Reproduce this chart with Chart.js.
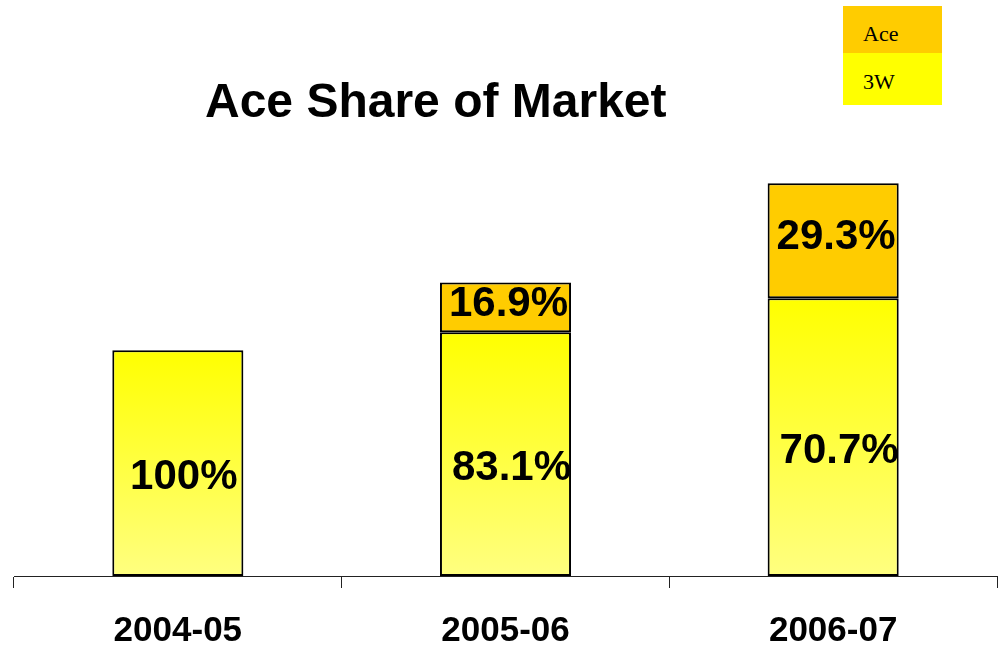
<!DOCTYPE html>
<html>
<head>
<meta charset="utf-8">
<script src="https://cdn.jsdelivr.net/npm/chart.js@4.4.1/dist/chart.umd.min.js"></script>
<style>
  html, body { margin: 0; padding: 0; background: #fff; overflow: hidden; }
  #wrap { position: relative; width: 1004px; height: 654px; }
  #title {
    position: absolute; left: 205px; top: 74px; width: 470px;
    font: bold 48px "Liberation Sans", Arial, sans-serif; line-height: 54px;
    color: #000; white-space: nowrap;
  }
  #legend { position: absolute; left: 843px; top: 6px; width: 99px; }
  #legend .row {
    font-family: "Liberation Serif", "Times New Roman", serif;
    font-size: 22px;
    padding-left: 20px; box-sizing: border-box; color: #000;
  }
  #legend #legAce { background: #ffcc00; height: 47px; line-height: 56px; }
  #legend #leg3w { background: #ffff00; height: 52px; line-height: 58px; }
</style>
</head>
<body>
<div id="wrap">
  <canvas id="shareChart" width="1004" height="654"></canvas>
  <div id="title">Ace Share of Market</div>
  <div id="legend">
    <div class="row" id="legAce">Ace</div>
    <div class="row" id="leg3w">3W</div>
  </div>
</div>
<script>
// chart data
const seasons = ['2004-05', '2005-06', '2006-07'];
const threeWValues = [100, 108, 123];
const aceValues = [0, 22, 51];
const threeWLabels = ['100%', '83.1%', '70.7%'];
const aceLabels = ['', '16.9%', '29.3%'];

const ctx = document.getElementById('shareChart').getContext('2d');

// yellow fading lighter towards the bottom of each bar
function yellowGradient(context) {
  const chart = context.chart;
  if (!chart.chartArea || context.dataIndex === undefined) return '#ffff00';
  const y = chart.scales.y;
  const top = y.getPixelForValue(threeWValues[context.dataIndex]);
  const bottom = y.getPixelForValue(0);
  const g = chart.ctx.createLinearGradient(0, top, 0, bottom);
  g.addColorStop(0, '#ffff00');
  g.addColorStop(1, '#ffff80');
  return g;
}

// draws the percentage inside every segment
const barLabels = {
  id: 'barLabels',
  afterDatasetsDraw(chart) {
    const c = chart.ctx;
    c.save();
    c.font = 'bold 42px "Liberation Sans", Arial, sans-serif';
    c.fillStyle = '#000';
    c.textAlign = 'center';
    c.textBaseline = 'middle';
    [threeWLabels, aceLabels].forEach((texts, di) => {
      chart.getDatasetMeta(di).data.forEach((bar, i) => {
        if (!texts[i]) return;
        const mid = (bar.y + bar.base) / 2;
        c.fillText(texts[i], bar.x + (di === 0 ? 6 : 3), mid + (di === 0 ? 14 : -3));
      });
    });
    c.restore();
  }
};

new Chart(ctx, {
  type: 'bar',
  data: {
    labels: seasons,
    datasets: [
      {
        label: '3W',
        data: threeWValues,
        backgroundColor: yellowGradient,
        borderColor: '#000',
        borderWidth: 2,
        borderSkipped: false
      },
      {
        label: 'Ace',
        data: aceValues,
        backgroundColor: '#ffcc00',
        borderColor: '#000',
        borderWidth: 2,
        borderSkipped: false
      }
    ]
  },
  options: {
    responsive: false,
    animation: false,
    layout: { padding: { top: 147, left: 14, right: 7, bottom: -20 } },
    datasets: { bar: { categoryPercentage: 1, barPercentage: 0.4 } },
    plugins: {
      legend: { display: false },
      tooltip: { enabled: false }
    },
    scales: {
      x: {
        stacked: true,
        border: { color: '#222', width: 1 },
        grid: { offset: true, drawOnChartArea: false, drawTicks: true, tickLength: 12, color: '#222' },
        ticks: {
          color: '#000',
          padding: 22,
          font: { family: '"Liberation Sans", Arial, sans-serif', size: 35, weight: 'bold' }
        }
      },
      y: {
        stacked: true,
        display: false,
        min: 0,
        max: 190
      }
    }
  },
  plugins: [barLabels]
});
</script>
</body>
</html>
